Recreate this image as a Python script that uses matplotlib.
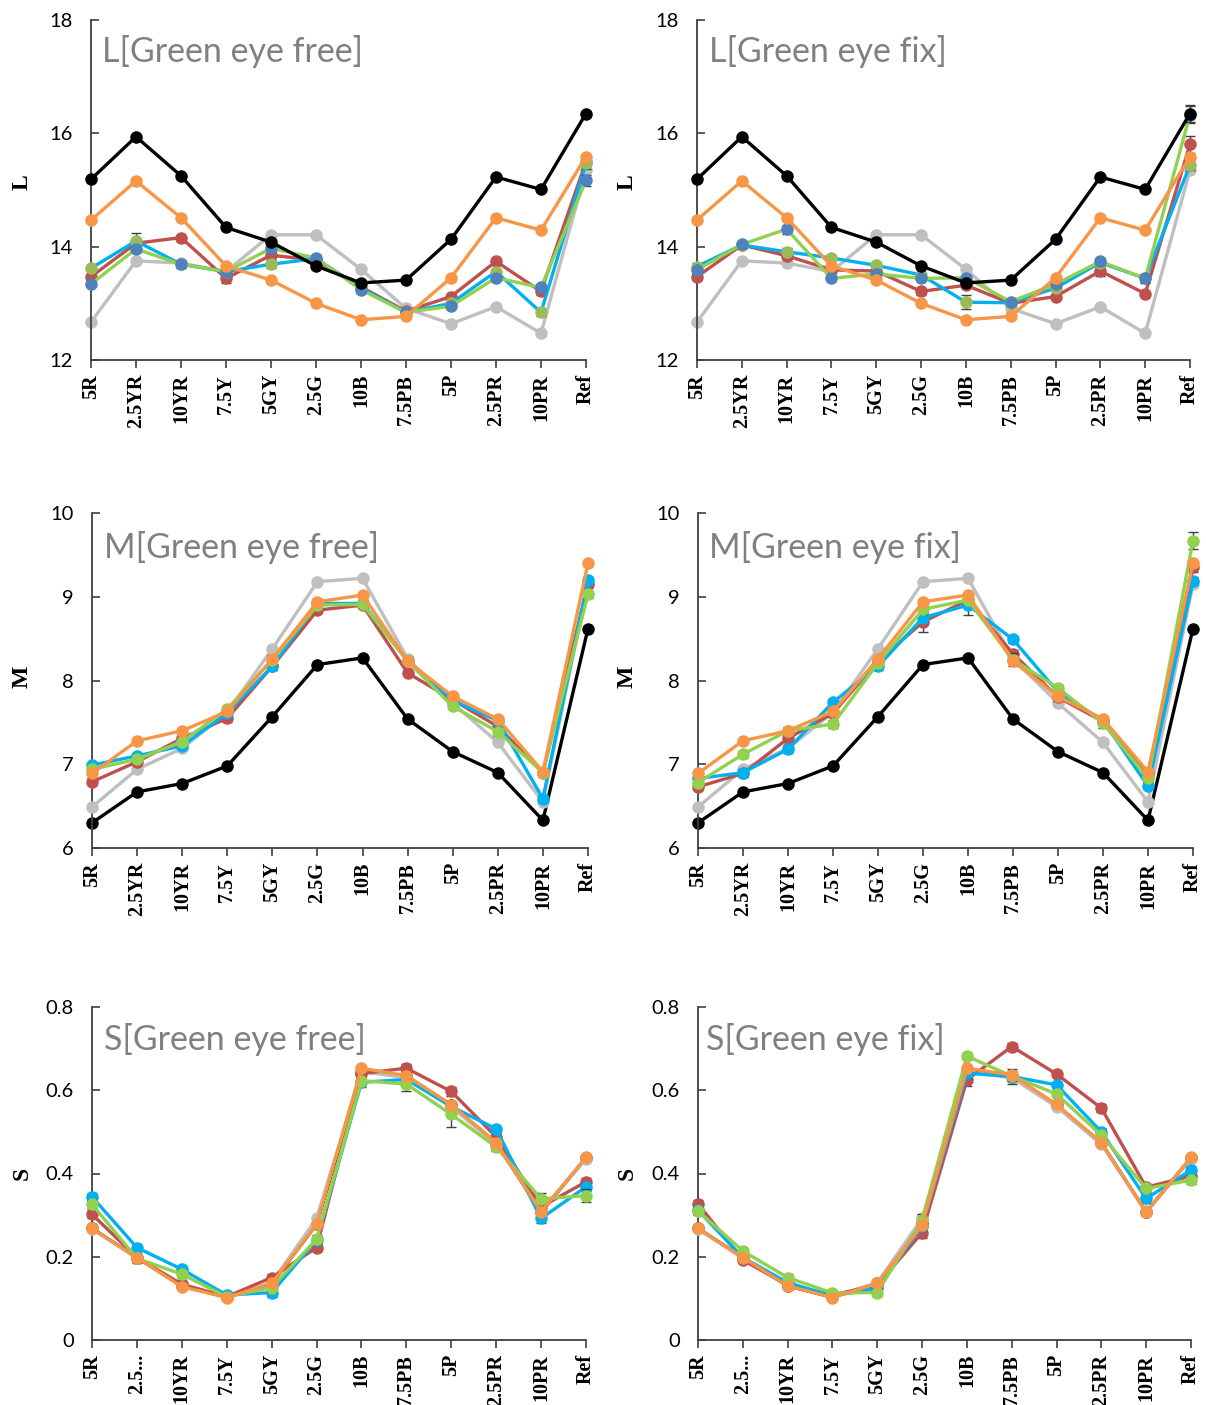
import matplotlib
matplotlib.use("Agg")
import matplotlib.pyplot as plt

# ---------------- categories ----------------
CATS = ["5R", "2.5YR", "10YR", "7.5Y", "5GY", "2.5G", "10B", "7.5PB", "5P", "2.5PR", "10PR", "Ref"]
CATS_S = ["5R", "2.5...", "10YR", "7.5Y", "5GY", "2.5G", "10B", "7.5PB", "5P", "2.5PR", "10PR", "Ref"]

# ---------------- L cone ----------------
L_black = [15.19, 15.94, 15.25, 14.34, 14.08, 13.66, 13.36, 13.41, 14.13, 15.23, 15.01, 16.35]
L_orange = [14.47, 15.16, 14.51, 13.66, 13.41, 13.00, 12.71, 12.77, 13.45, 14.51, 14.29, 15.59]
L_gray = [12.67, 13.75, 13.71, 13.56, 14.21, 14.21, 13.60, 12.91, 12.64, 12.94, 12.47, 15.35]

L_free_red = [13.47, 14.06, 14.16, 13.44, 13.85, 13.76, 13.29, 12.86, 13.12, 13.74, 13.21, 15.50]
L_free_red_err = [0.05, 0.05, 0.05, 0.08, 0.05, 0.04, 0.04, 0.04, 0.04, 0.05, 0.06, 0.05]
L_free_a = [13.62, 14.10, 13.69, 13.56, 13.69, 13.79, 13.27, 12.84, 13.00, 13.56, 12.84, 15.47]
L_free_a_err = [0.04, 0.15, 0.05, 0.05, 0.07, 0.05, 0.05, 0.05, 0.04, 0.05, 0.06, 0.10]
L_free_c = [13.34, 13.96, 13.69, 13.56, 13.97, 13.80, 13.24, 12.84, 12.95, 13.45, 13.28, 15.17]
L_free_c_err = [0.04, 0.05, 0.06, 0.04, 0.04, 0.05, 0.05, 0.05, 0.04, 0.04, 0.06, 0.10]

L_fix_red = [13.47, 14.03, 13.84, 13.59, 13.57, 13.21, 13.32, 13.00, 13.12, 13.57, 13.17, 15.81]
L_fix_red_err = [0.06, 0.04, 0.05, 0.04, 0.04, 0.06, 0.04, 0.04, 0.04, 0.08, 0.05, 0.15]
L_fix_a = [13.65, 14.03, 13.91, 13.80, 13.67, 13.50, 13.02, 13.01, 13.27, 13.72, 13.44, 15.44]
L_fix_a_err = [0.06, 0.05, 0.06, 0.06, 0.06, 0.05, 0.12, 0.04, 0.05, 0.06, 0.06, 0.08]
L_fix_c = [13.59, 14.04, 14.31, 13.44, 13.52, 13.44, 13.45, 13.03, 13.34, 13.74, 13.44, 16.33]
L_fix_c_err = [0.05, 0.06, 0.08, 0.04, 0.05, 0.05, 0.05, 0.04, 0.05, 0.06, 0.08, 0.15]

# ---------------- M cone ----------------
M_black = [6.30, 6.67, 6.77, 6.98, 7.57, 8.19, 8.27, 7.54, 7.15, 6.90, 6.33, 8.62]
M_gray = [6.49, 6.94, 7.19, 7.62, 8.38, 9.18, 9.22, 8.26, 7.73, 7.26, 6.55, 9.15]
M_orange = [6.89, 7.28, 7.40, 7.63, 8.26, 8.94, 9.02, 8.23, 7.81, 7.54, 6.91, 9.40]

M_free_red = [6.79, 7.03, 7.31, 7.55, 8.17, 8.84, 8.90, 8.09, 7.77, 7.45, 6.90, 9.15]
M_free_red_err = [0.04, 0.03, 0.04, 0.04, 0.04, 0.04, 0.04, 0.04, 0.03, 0.04, 0.04, 0.04]
M_free_cyan = [6.99, 7.10, 7.22, 7.61, 8.17, 8.92, 8.92, 8.23, 7.76, 7.52, 6.59, 9.20]
M_free_cyan_err = [0.03, 0.03, 0.04, 0.03, 0.04, 0.05, 0.04, 0.05, 0.03, 0.04, 0.04, 0.04]
M_free_green = [6.94, 7.06, 7.27, 7.66, 8.25, 8.90, 8.91, 8.23, 7.69, 7.39, 6.90, 9.03]
M_free_green_err = [0.03, 0.03, 0.03, 0.03, 0.05, 0.04, 0.04, 0.04, 0.03, 0.05, 0.04, 0.04]

M_fix_red = [6.73, 6.89, 7.31, 7.61, 8.23, 8.70, 8.96, 8.32, 7.80, 7.51, 6.89, 9.35]
M_fix_red_err = [0.04, 0.04, 0.04, 0.04, 0.04, 0.12, 0.05, 0.04, 0.04, 0.04, 0.04, 0.05]
M_fix_cyan = [6.83, 6.90, 7.18, 7.74, 8.17, 8.75, 8.90, 8.49, 7.86, 7.52, 6.74, 9.19]
M_fix_cyan_err = [0.03, 0.04, 0.05, 0.04, 0.04, 0.05, 0.12, 0.04, 0.04, 0.05, 0.04, 0.05]
M_fix_green = [6.78, 7.12, 7.40, 7.48, 8.21, 8.85, 8.96, 8.25, 7.91, 7.49, 6.83, 9.67]
M_fix_green_err = [0.03, 0.04, 0.04, 0.05, 0.04, 0.05, 0.05, 0.08, 0.04, 0.06, 0.04, 0.10]

# ---------------- S cone ----------------
S_black = [0.268, 0.198, 0.130, 0.103, 0.136, 0.278, 0.645, 0.634, 0.564, 0.473, 0.308, 0.437]
S_gray = [0.266, 0.197, 0.132, 0.103, 0.138, 0.292, 0.645, 0.630, 0.560, 0.470, 0.310, 0.436]

S_free_red = [0.302, 0.198, 0.134, 0.104, 0.150, 0.222, 0.640, 0.653, 0.597, 0.488, 0.320, 0.380]
S_free_red_err = [0.010, 0.008, 0.008, 0.006, 0.008, 0.008, 0.010, 0.010, 0.010, 0.010, 0.010, 0.010]
S_free_cyan = [0.344, 0.222, 0.170, 0.108, 0.114, 0.240, 0.619, 0.626, 0.561, 0.507, 0.292, 0.368]
S_free_cyan_err = [0.010, 0.008, 0.008, 0.006, 0.010, 0.010, 0.010, 0.010, 0.010, 0.008, 0.010, 0.010]
S_free_green = [0.326, 0.196, 0.158, 0.104, 0.126, 0.242, 0.623, 0.615, 0.542, 0.464, 0.339, 0.347]
S_free_green_err = [0.010, 0.010, 0.010, 0.006, 0.010, 0.010, 0.010, 0.018, 0.030, 0.010, 0.015, 0.015]
S_free_orange = [0.268, 0.198, 0.128, 0.102, 0.136, 0.278, 0.653, 0.635, 0.565, 0.474, 0.308, 0.439]

S_fix_red = [0.327, 0.192, 0.132, 0.108, 0.132, 0.258, 0.625, 0.705, 0.639, 0.557, 0.367, 0.394]
S_fix_red_err = [0.010, 0.008, 0.008, 0.006, 0.008, 0.012, 0.015, 0.008, 0.008, 0.010, 0.008, 0.010]
S_fix_cyan = [0.312, 0.198, 0.138, 0.106, 0.124, 0.274, 0.641, 0.633, 0.613, 0.500, 0.340, 0.408]
S_fix_cyan_err = [0.010, 0.008, 0.008, 0.006, 0.008, 0.010, 0.012, 0.018, 0.008, 0.010, 0.012, 0.010]
S_fix_green = [0.310, 0.214, 0.150, 0.113, 0.114, 0.288, 0.682, 0.634, 0.591, 0.492, 0.364, 0.384]
S_fix_green_err = [0.010, 0.008, 0.008, 0.006, 0.008, 0.015, 0.008, 0.012, 0.008, 0.010, 0.008, 0.010]
S_fix_orange = [0.268, 0.198, 0.130, 0.102, 0.136, 0.276, 0.653, 0.637, 0.566, 0.474, 0.307, 0.439]

# ---------------- styling ----------------
BLACK = "#000000"
ORANGE = "#F79646"
GRAY = "#BFBFBF"
RED = "#C0504D"
OLIVE = "#9BBB59"
STEEL = "#4F81BD"
CYAN = "#00B0F0"
GREEN = "#92D050"
ERR = "#404040"
SPINE = "#404040"

W, H = 1206, 1405
fig = plt.figure(figsize=(W / 100, H / 100), dpi=100)
fig.patch.set_facecolor("white")

TICK_FONT = "Lato"
CAT_FONT = "Liberation Serif"


def make_axes(x0, x1, y0, y1):
    return fig.add_axes([x0 / W, 1 - y1 / H, (x1 - x0) / W, (y1 - y0) / H])


def series(ax, y, line_color, marker_color=None, err=None, z=2):
    x = list(range(len(y)))
    mc = marker_color or line_color
    if err is not None:
        ax.errorbar(x, y, yerr=err, fmt="none", ecolor=ERR, elinewidth=1.0,
                    capsize=3.5, capthick=1.0, zorder=z - 0.5, clip_on=False)
    ax.plot(x, y, color=line_color, lw=2.4, zorder=z, clip_on=False,
            marker="o", markersize=8, markerfacecolor=mc, markeredgecolor=mc,
            solid_joinstyle="round")


def style_axes(ax, ylim, yticks, yticklabels, cats, title, ylabel, ylabel_x, ylabel_y, title_xy):
    ax.set_xlim(0, len(cats) - 1)
    ax.set_ylim(*ylim)
    ax.set_yticks(yticks)
    ax.set_yticklabels(yticklabels, fontfamily=TICK_FONT, fontsize=14.5)
    ax.set_xticks(range(len(cats)))
    ax.set_xticklabels(cats, rotation=90, fontfamily=CAT_FONT, fontweight="bold",
                       fontsize=14.5, va="top", ha="center")
    for s in ("top", "right"):
        ax.spines[s].set_visible(False)
    for s in ("left", "bottom"):
        ax.spines[s].set_color(SPINE)
        ax.spines[s].set_linewidth(1.3)
    ax.tick_params(axis="y", direction="in", length=6, width=1.2, color=SPINE, pad=13)
    ax.tick_params(axis="x", direction="out", length=6, width=1.2, color=SPINE, pad=4)
    fig.text(ylabel_x / W, 1 - ylabel_y / H, ylabel, rotation=90, ha="center", va="center",
             fontfamily=CAT_FONT, fontweight="bold", fontsize=17)
    fig.text(title_xy[0] / W, 1 - title_xy[1] / H, title, ha="left", va="center",
             fontfamily=TICK_FONT, fontsize=24.5, color="#808080")


# ---- L, free ----
ax = make_axes(91, 586, 20, 360)
series(ax, L_gray, GRAY, z=2)
series(ax, L_free_red, RED, err=L_free_red_err, z=3)
series(ax, L_free_a, CYAN, OLIVE, err=L_free_a_err, z=4)
series(ax, L_free_c, GREEN, STEEL, err=L_free_c_err, z=5)
series(ax, L_orange, ORANGE, z=6)
series(ax, L_black, BLACK, z=7)
style_axes(ax, (12, 18), [12, 14, 16, 18], ["12", "14", "16", "18"], CATS,
           "L[Green eye free]", "L", 22, 182, (102, 51))

# ---- L, fix ----
ax = make_axes(697, 1190, 20, 360)
series(ax, L_gray, GRAY, z=2)
series(ax, L_fix_red, RED, err=L_fix_red_err, z=3)
series(ax, L_fix_a, CYAN, OLIVE, err=L_fix_a_err, z=4)
series(ax, L_fix_c, GREEN, STEEL, err=L_fix_c_err, z=5)
series(ax, L_orange, ORANGE, z=6)
series(ax, L_black, BLACK, err=[0, 0, 0, 0, 0, 0, 0, 0, 0, 0, 0, 0.15], z=7)
style_axes(ax, (12, 18), [12, 14, 16, 18], ["12", "14", "16", "18"], CATS,
           "L[Green eye fix]", "L", 627, 182, (709, 51))

# ---- M, free ----
ax = make_axes(92, 588, 513, 848)
series(ax, M_black, BLACK, z=2)
series(ax, M_gray, GRAY, z=3)
series(ax, M_free_red, RED, err=M_free_red_err, z=4)
series(ax, M_free_cyan, CYAN, err=M_free_cyan_err, z=5)
series(ax, M_free_green, GREEN, err=M_free_green_err, z=6)
series(ax, M_orange, ORANGE, z=7)
style_axes(ax, (6, 10), [6, 7, 8, 9, 10], ["6", "7", "8", "9", "10"], CATS,
           "M[Green eye free]", "M", 22, 677, (104, 548))

# ---- M, fix ----
ax = make_axes(698, 1193, 513, 848)
series(ax, M_black, BLACK, z=2)
series(ax, M_gray, GRAY, z=3)
series(ax, M_fix_red, RED, err=M_fix_red_err, z=4)
series(ax, M_fix_cyan, CYAN, err=M_fix_cyan_err, z=5)
series(ax, M_fix_green, GREEN, err=M_fix_green_err, z=6)
series(ax, M_orange, ORANGE, z=7)
style_axes(ax, (6, 10), [6, 7, 8, 9, 10], ["6", "7", "8", "9", "10"], CATS,
           "M[Green eye fix]", "M", 627, 677, (709, 548))

S_TICKS = [0, 0.2, 0.4, 0.6, 0.8]
S_LABELS = ["0", "0.2", "0.4", "0.6", "0.8"]

# ---- S, free ----
ax = make_axes(92, 586, 1007, 1340)
series(ax, S_black, BLACK, z=2)
series(ax, S_gray, GRAY, z=3)
series(ax, S_free_red, RED, err=S_free_red_err, z=4)
series(ax, S_free_cyan, CYAN, err=S_free_cyan_err, z=5)
series(ax, S_free_green, GREEN, err=S_free_green_err, z=6)
series(ax, S_free_orange, ORANGE, z=7)
style_axes(ax, (0, 0.8), S_TICKS, S_LABELS, CATS_S,
           "S[Green eye free]", "S", 22, 1173, (104, 1039))

# ---- S, fix ----
ax = make_axes(698, 1191, 1007, 1340)
series(ax, S_black, BLACK, z=2)
series(ax, S_gray, GRAY, z=3)
series(ax, S_fix_red, RED, err=S_fix_red_err, z=4)
series(ax, S_fix_cyan, CYAN, err=S_fix_cyan_err, z=5)
series(ax, S_fix_green, GREEN, err=S_fix_green_err, z=6)
series(ax, S_fix_orange, ORANGE, z=7)
style_axes(ax, (0, 0.8), S_TICKS, S_LABELS, CATS_S,
           "S[Green eye fix]", "S", 627, 1173, (706, 1039))

fig.savefig("out.png", dpi=100, facecolor="white")
